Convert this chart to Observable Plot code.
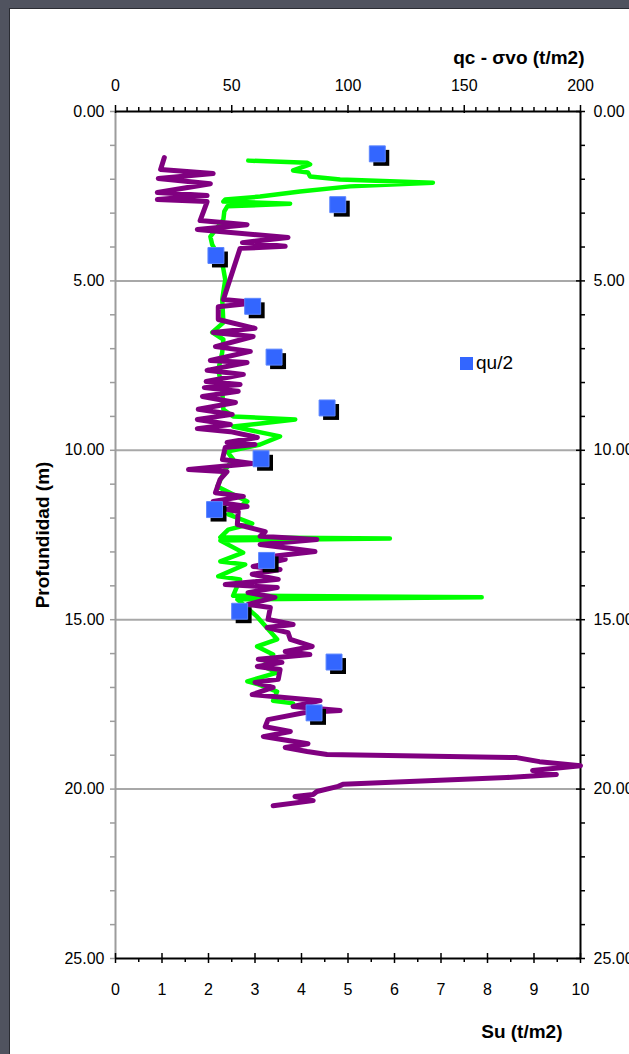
<!DOCTYPE html>
<html>
<head>
<meta charset="utf-8">
<script src="https://cdn.jsdelivr.net/npm/d3@7"></script>
<script src="https://cdn.jsdelivr.net/npm/@observablehq/plot@0.6"></script>
<style>
  html, body { margin: 0; padding: 0; }
  body {
    width: 629px; height: 1054px; overflow: hidden; position: relative;
    background: #50535f;
    font-family: Arial, "Liberation Sans", sans-serif;
  }
  #panel {
    position: absolute; left: 9px; top: 8px; width: 620px; height: 1046px;
    background: #fff; border-left: 1px solid #2a2c33; border-top: 1px solid #2a2c33;
    overflow: hidden;
  }
  #legend {
    position: absolute; left: 450px; top: 341px;
    display: flex; align-items: center; gap: 3px;
    font-size: 19px; line-height: 26px; color: #000;
  }
  #legend .sw { width: 13px; height: 13px; background: #3366ff; }
</style>
</head>
<body>
<div id="panel">
  <div id="chart"></div>
  <div id="legend"><div class="sw"></div><span>qu/2</span></div>
</div>
<script>
// Su profile from CPT (t/m2) versus depth (m)
const suDepth = [1.36,1.71,1.83,1.98,2.13,2.39,2.48,2.60,2.66,2.74,
  3.22,3.34,3.48,3.72,3.87,3.98,4.04,5.55,5.64,5.76,
  6.14,6.40,6.52,6.64,6.94,7.08,7.35,7.41,7.64,7.76,
  7.97,8.06,8.15,8.26,8.41,8.59,8.79,8.94,9.09,9.24,
  9.36,9.45,9.62,9.77,9.83,9.92,10.27,10.39,10.57,10.63,
  10.86,11.25,11.36,11.51,11.66,11.74,11.81,12.19,12.40,12.54,
  12.63,12.78,12.99,13.13,13.22,13.43,13.52,13.66,13.81,13.96,
  14.05,14.20,14.34,14.55,14.64,14.99,15.14,15.23,15.38,15.58,
  15.79,15.94,16.03,16.17,16.26,16.38,16.47,16.76,16.85,17.00,
  17.21,17.39,17.56,17.68,17.74,17.95,18.16,18.30,18.45,18.66,
  18.77,18.89,18.98,19.07,19.19,19.31,19.45,19.57,19.66,19.86,
  19.92,20.07,20.16,20.22,20.34,20.49];
const suValues = [1.05,0.97,2.10,0.92,2.04,0.90,1.97,0.90,1.97,1.95,
  1.82,2.83,1.76,3.71,2.73,3.65,2.68,2.32,3.05,2.21,
  2.21,3.00,2.10,2.96,2.15,2.90,2.04,2.83,1.97,2.75,
  1.95,2.68,1.91,2.64,1.87,2.58,1.78,2.51,1.76,2.47,
  1.76,2.47,3.05,2.40,3.00,2.36,2.30,2.94,1.57,2.40,
  2.25,2.15,2.75,2.10,2.83,2.40,2.64,2.62,3.22,3.11,
  4.33,3.11,4.29,3.39,3.65,2.96,3.54,2.94,3.50,2.36,
  3.48,2.85,3.43,2.85,3.33,3.28,3.82,3.26,3.71,3.76,
  4.23,3.65,4.18,3.07,3.58,3.05,3.54,3.50,3.00,3.39,
  2.94,4.40,3.82,4.83,4.08,3.28,3.22,3.76,3.18,4.14,
  3.65,4.12,4.55,8.63,9.12,10.0,8.97,9.48,8.41,4.89,
  4.79,4.33,4.25,3.86,4.25,3.39];

// Net cone resistance qc - σvo (t/m2) versus depth (m)
const qcDepth = [1.45,1.51,1.56,1.74,1.80,1.92,2.01,2.10,
  2.21,2.36,2.51,2.60,2.66,2.72,2.80,2.95,3.19,3.69,
  3.93,4.46,4.96,5.55,6.23,6.52,6.73,7.11,7.62,8.21,
  8.80,9.00,9.09,9.30,9.59,9.83,10.04,10.27,10.57,11.07,
  11.51,11.89,12.16,12.34,12.57,12.60,12.66,13.02,13.28,13.37,
  13.72,13.81,14.29,14.34,14.40,14.91,15.58,15.79,16.03,16.38,
  16.56,16.82,16.91,17.12,17.39,17.47];
const qcValues = [57.1,82.4,83.7,76.4,82.8,83.7,96.6,136.5,
  100.9,79.4,62.2,47.2,46.4,75.1,48.1,46.8,46.4,40.8,
  41.6,45.9,47.2,45.9,46.4,41.6,46.4,45.9,44.2,45.9,
  46.4,50.6,77.3,50.6,70.8,62.2,48.1,50.6,47.2,43.8,
  56.7,48.5,58.8,48.5,45.1,118.0,45.1,54.9,45.1,55.8,
  44.2,53.6,50.6,157.5,52.4,60.9,69.5,60.9,67.8,63.5,
  69.5,56.7,61.4,69.5,67.8,76.4];

// Unconfined compression tests, qu/2 (t/m2)
const quDepth = [1.25,2.75,4.25,5.75,7.25,8.75,10.25,11.75,13.25,14.75,16.25,17.75];
const quHalf  = [5.63,4.78,2.16,2.95,3.41,4.55,3.13,2.13,3.25,2.67,4.70,4.27];

// Axis ticks
const suTicks = [0,1,2,3,4,5,6,7,8,9,10];
const suMinorTicks = [0.5,1.5,2.5,3.5,4.5,5.5,6.5,7.5,8.5,9.5];
const qcTicks = [0,50,100,150,200];
const qcMinorTicks = d3.range(5, 200, 5).filter(v => v % 50 !== 0);
const depthTicks = [0,5,10,15,20,25];
const depthMinorTicks = d3.range(1, 25).filter(v => v % 5 !== 0);
const gridDepths = [5,10,15,20];

// qc and Su share the horizontal frame: 200 t/m2 of qc spans the same width as 10 t/m2 of Su
const qcToSu = v => v / 20;

const suData = suDepth.map((d, i) => ({depth: d, su: suValues[i]}));
const qcData = qcDepth.map((d, i) => ({depth: d, qc: qcValues[i]}));
const quData = quDepth.map((d, i) => ({depth: d, su: quHalf[i]}));

const grey = "#9c9c9c";
const tickFont = 16;
const titleFont = 19;

const chart = Plot.plot({
  width: 620,
  height: 1046,
  marginLeft: 105,
  marginRight: 50,
  marginTop: 102,
  marginBottom: 97,
  style: {
    fontFamily: 'Arial, "Liberation Sans", sans-serif',
    background: "transparent",
    color: "#000"
  },
  x: {domain: [0, 10], axis: null},
  y: {domain: [0, 25], reverse: true, axis: null},
  marks: [
    // horizontal gridlines
    Plot.ruleY(gridDepths, {stroke: "#a8a8a8", strokeWidth: 2}),

    // left axis (grey) with outward ticks
    Plot.ruleX([0], {stroke: grey, strokeWidth: 2}),
    Plot.ruleY(depthMinorTicks.concat(depthTicks), {x1: 0, x2: 0, insetLeft: -5, stroke: grey, strokeWidth: 1.5}),
    Plot.text(depthTicks, {x: 0, y: d => d, text: d => d.toFixed(2), textAnchor: "end", dx: -11, fontSize: tickFont}),

    // right axis (black)
    Plot.ruleX([10], {stroke: "#000", strokeWidth: 2}),
    Plot.ruleY(depthMinorTicks, {x1: 10, x2: 10, insetRight: -5, stroke: "#000", strokeWidth: 1.5}),
    Plot.ruleY(depthTicks, {x1: 10, x2: 10, insetLeft: -4, insetRight: -5, stroke: "#000", strokeWidth: 1.5}),
    Plot.text(depthTicks, {x: 10, y: d => d, text: d => d.toFixed(2), textAnchor: "start", dx: 13, fontSize: tickFont}),

    // top axis: qc - σvo
    Plot.ruleY([0], {stroke: "#000", strokeWidth: 2}),
    Plot.ruleX(qcMinorTicks, {x: qcToSu, y1: 0, y2: 0, insetTop: -4, stroke: "#000", strokeWidth: 1.5}),
    Plot.ruleX(qcTicks, {x: qcToSu, y1: 0, y2: 0, insetTop: -6, insetBottom: -2, stroke: "#000", strokeWidth: 1.5}),
    Plot.text(qcTicks, {x: qcToSu, y: 0, text: d => String(d), dy: -26, fontSize: tickFont}),
    Plot.text(["qc - σvo (t/m2)"], {frameAnchor: "top-right", textAnchor: "end", lineAnchor: "middle",
      dx: 4, dy: -54, fontWeight: "bold", fontSize: titleFont}),

    // bottom axis: Su
    Plot.ruleY([25], {stroke: "#000", strokeWidth: 2}),
    Plot.ruleX(suMinorTicks, {x: d => d, y1: 25, y2: 25, insetBottom: -4, stroke: "#000", strokeWidth: 1.5}),
    Plot.ruleX(suTicks, {x: d => d, y1: 25, y2: 25, insetTop: -5, insetBottom: -5, stroke: "#000", strokeWidth: 1.5}),
    Plot.text(suTicks, {x: d => d, y: 25, text: d => String(d), dy: 31, fontSize: tickFont}),
    Plot.text(["Su (t/m2)"], {frameAnchor: "bottom-right", textAnchor: "end", lineAnchor: "middle",
      dx: -18, dy: 73, fontWeight: "bold", fontSize: titleFont}),

    // depth title, centred on the frame height
    Plot.text(["Profundidad (m)"], {frameAnchor: "left", rotate: -90, textAnchor: "middle", lineAnchor: "middle",
      dx: -73, dy: 0, fontWeight: "bold", fontSize: titleFont}),

    // profiles
    Plot.line(qcData, {x: d => qcToSu(d.qc), y: "depth", stroke: "#00ff00", strokeWidth: 4.5,
      strokeLinejoin: "round", strokeLinecap: "round"}),
    Plot.line(suData, {x: "su", y: "depth", stroke: "#800080", strokeWidth: 5,
      strokeLinejoin: "round", strokeLinecap: "round"}),

    // qu/2 test points with drop shadow
    Plot.dot(quData, {x: "su", y: "depth", symbol: "square", r: 9, fill: "#000", dx: 4, dy: 4}),
    Plot.dot(quData, {x: "su", y: "depth", symbol: "square", r: 9, fill: "#3366ff", stroke: "#5b85ff", strokeWidth: 1})
  ]
});
document.getElementById("chart").appendChild(chart);
</script>
</body>
</html>
